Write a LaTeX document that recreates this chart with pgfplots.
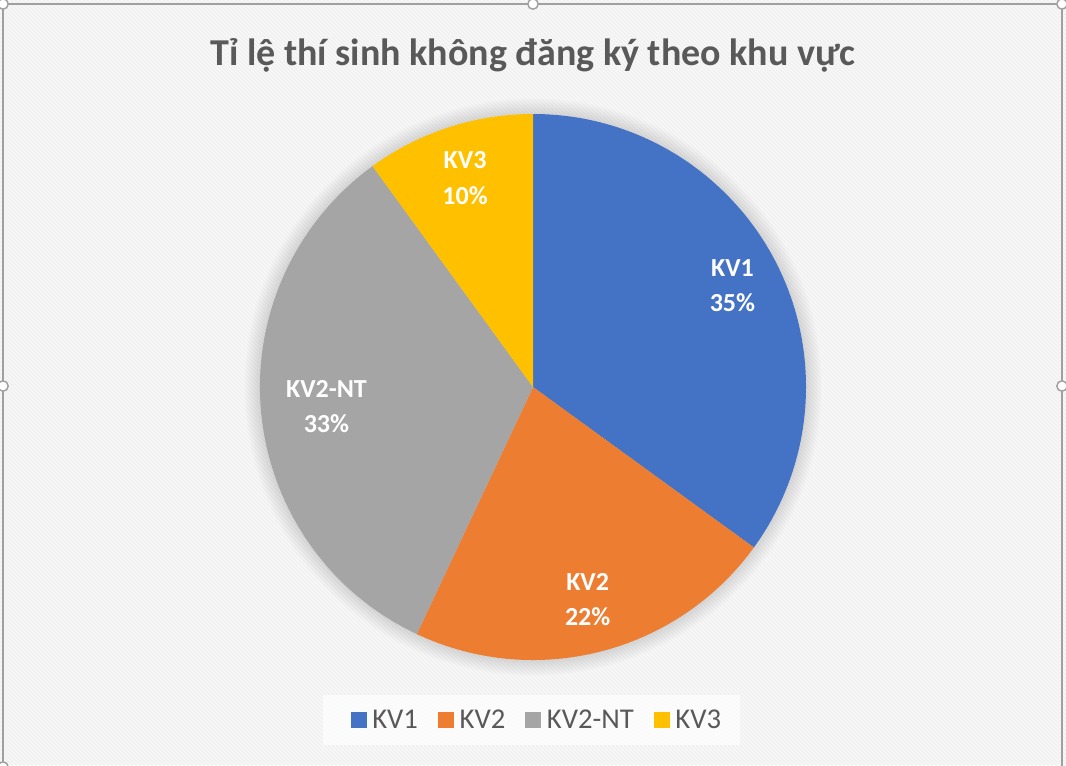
\documentclass[border=0pt]{standalone}
\usepackage{fontspec}
\setmainfont{Carlito}
\usepackage{pgfplots}
\usepackage{pgfplotstable}
\pgfplotsset{compat=1.18}
\usetikzlibrary{patterns}
\definecolor{kvA}{HTML}{4472C4}
\definecolor{kvB}{HTML}{ED7D31}
\definecolor{kvC}{HTML}{A5A5A5}
\definecolor{kvD}{HTML}{FFC000}
\definecolor{ink}{HTML}{595959}
\definecolor{bgfill}{HTML}{F7F7F7}
\definecolor{bgline}{HTML}{ECECEC}
\definecolor{framegrey}{HTML}{A0A0A0}

% share of candidates (%), slice colour, label distance (fraction of radius)
\pgfplotstableread[col sep=comma]{
label,value,colour,lpos
KV1,35,kvA,0.82
KV2,22,kvB,0.805
KV2-NT,33,kvC,0.76
KV3,10,kvD,0.805
}\piedata

\newcommand\pieR{204.75pt} % 273 px
\tikzset{slicelabel/.style={font=\fontsize{19.5}{26.5}\selectfont\bfseries, text=white, align=center}}

\begin{document}
\begin{tikzpicture}
\begin{axis}[hide axis, x=0.75pt, y=0.75pt, y dir=reverse,
  xmin=0, xmax=1066, ymin=0, ymax=765, clip=true,
  legend columns=4,
  legend style={at={(0.504,0.059)}, anchor=center, draw=none, fill=none,
    font=\fontsize{21.5}{22}\selectfont, text=ink,
    /tikz/every even column/.append style={column sep=13pt}},
  legend image code/.code={\fill[#1] (0pt,-5.6pt) rectangle (11.2pt,5.6pt);
    \path[draw=none, fill=none] (0pt,0pt) -- (14pt,0pt);}]

  % background, texture and frame
  \fill[bgfill] (axis cs:0,0) rectangle (axis cs:1066,765);
  \fill[pattern=north west lines, pattern color=bgline] (axis cs:0,0) rectangle (axis cs:1066,765);
  \fill[white, fill opacity=0.7] (axis cs:323,695) rectangle (axis cs:740,745);

  % soft shadow round the pie
  \pgfplotsinvokeforeach{1,...,16}{
    \fill[black, fill opacity=0.007] (axis cs:533,387) circle[radius={(273+#1)*0.75pt}];
  }

  \xdef\angstart{90}
  \pgfplotsinvokeforeach{0,...,3}{
    \pgfplotstablegetelem{#1}{value}\of\piedata \let\val=\pgfplotsretval
    \pgfplotstablegetelem{#1}{label}\of\piedata \let\lab=\pgfplotsretval
    \pgfplotstablegetelem{#1}{colour}\of\piedata \let\col=\pgfplotsretval
    \pgfplotstablegetelem{#1}{lpos}\of\piedata \let\lp=\pgfplotsretval
    \pgfmathsetmacro\angend{\angstart-3.6*\val}
    \pgfmathsetmacro\angmid{(\angstart+\angend)/2}
    \pgfmathsetmacro\lx{533+\lp*273*cos(\angmid)}
    \pgfmathsetmacro\ly{387-\lp*273*sin(\angmid)}
    \edef\temp{\noexpand\fill[\col] (axis cs:533,387) -- ++(\angstart:\pieR)
      arc[start angle=\angstart, end angle=\angend, radius=\pieR] -- cycle;
      \noexpand\node[slicelabel] at (axis cs:\lx,\ly) {\lab\noexpand\\\val\noexpand\%};}
    \temp
    \xdef\angstart{\angend}
  }

  \draw[framegrey, line width=1.1pt] (axis cs:3,4) rectangle (axis cs:1062,768);
  \foreach \hx/\hy in {3/4, 533/4, 1062/4, 3/386, 1062/386, 3/767}{
    \edef\temp{\noexpand\filldraw[fill=white, draw=framegrey, line width=1.1pt] (axis cs:\hx,\hy) circle[radius=3.9pt];}
    \temp
  }

  \node[font=\fontsize{28.5}{32}\selectfont\bfseries, text=ink] at (axis cs:533,55)
    {Tỉ lệ thí sinh không đăng ký theo khu vực};

  \addlegendimage{kvA}\addlegendentry{KV1}
  \addlegendimage{kvB}\addlegendentry{KV2}
  \addlegendimage{kvC}\addlegendentry{KV2-NT}
  \addlegendimage{kvD}\addlegendentry{KV3}
\end{axis}
\end{tikzpicture}
\end{document}
